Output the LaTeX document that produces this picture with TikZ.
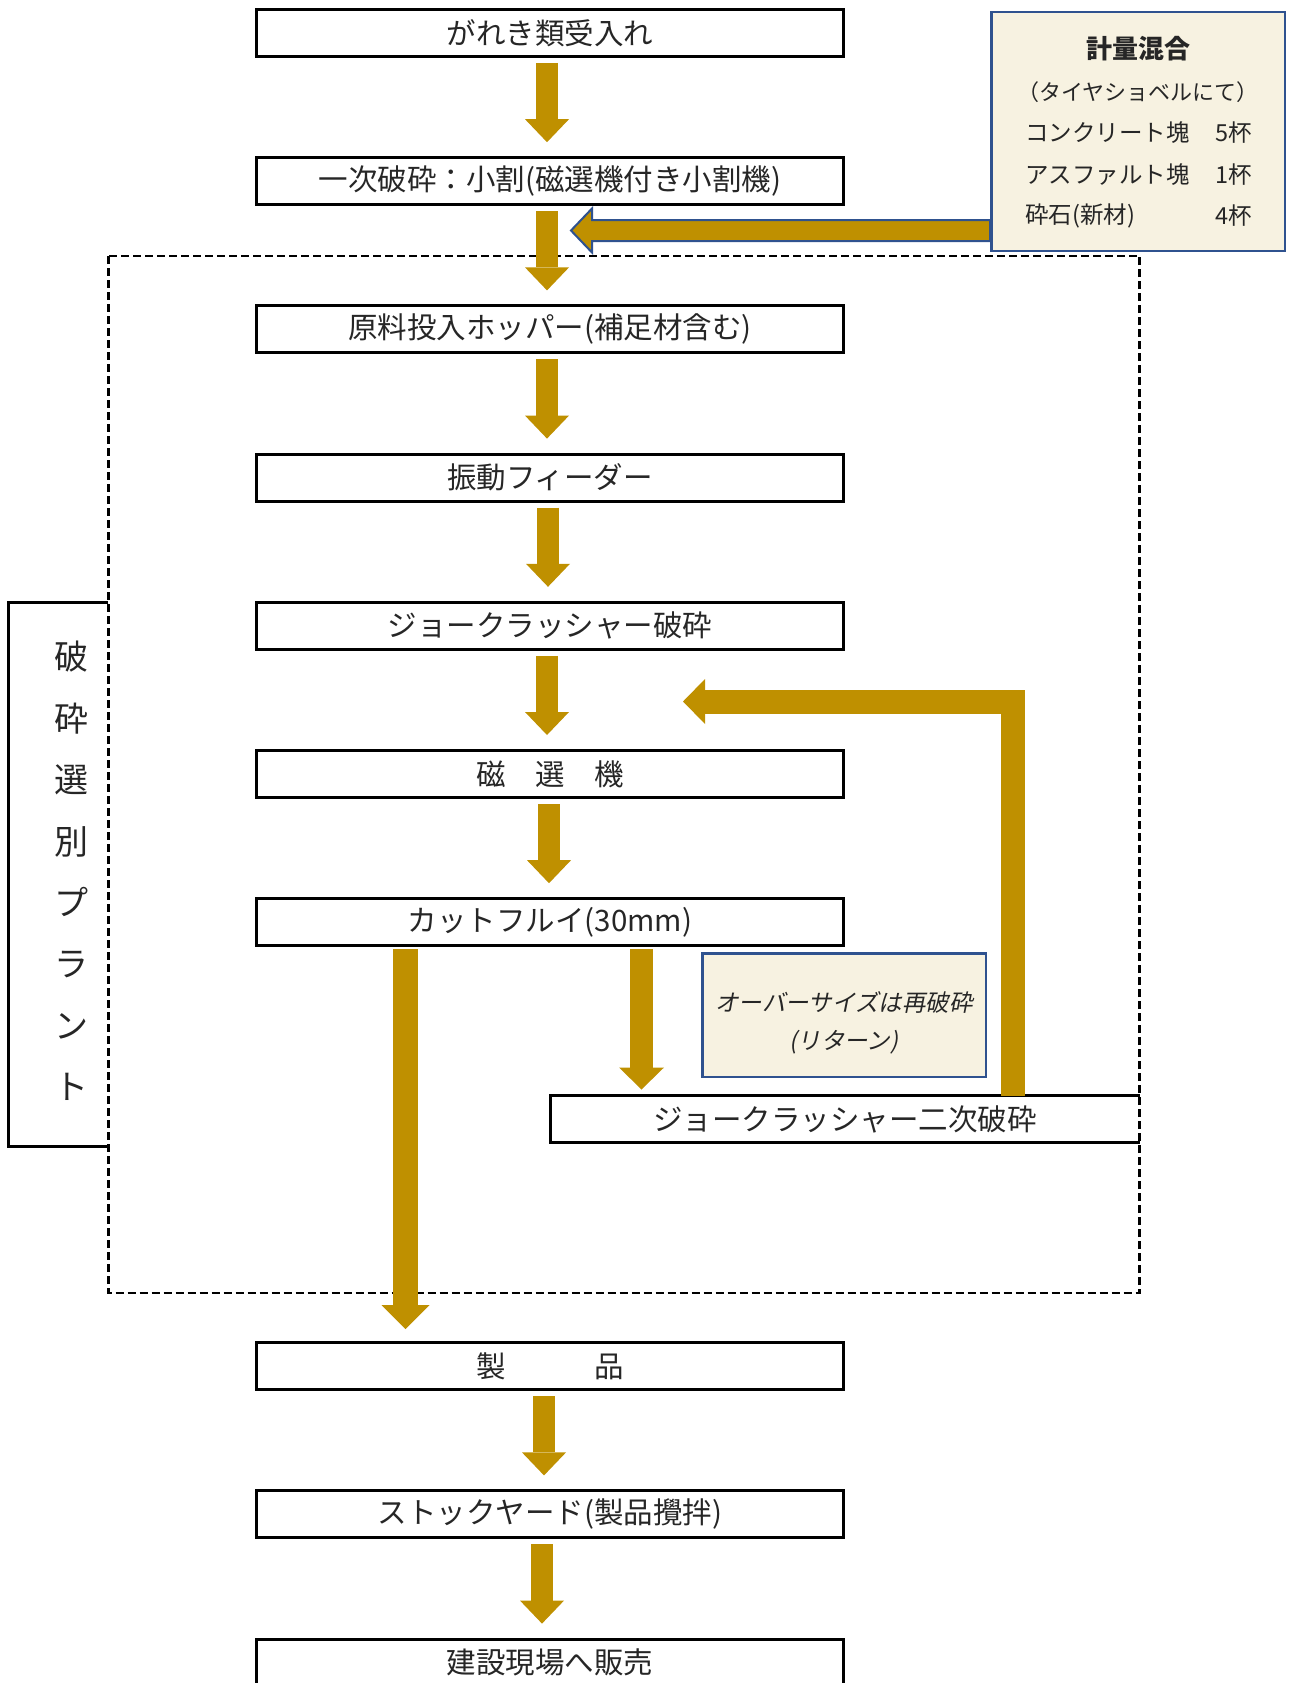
\documentclass[tikz,border=0pt]{standalone}
\usepackage{fontspec}
\usepackage{tikz}
\usetikzlibrary{positioning, arrows.meta, calc}
\setmainfont{Noto Sans CJK JP}
\newfontfamily\slantjp{Noto Sans CJK JP}[FakeSlant=0.2]
\definecolor{flowgold}{RGB}{191,144,0}
\definecolor{noteblue}{RGB}{47,82,143}
\definecolor{notefill}{RGB}{247,242,225}

\begin{document}
\begin{tikzpicture}
	[
	x=1pt, y=-1pt,
	every node/.style={text=black!85},
	stepbox/.style={draw, line width=3pt, minimum width=587pt, minimum height=47pt,
		inner sep=0pt, font=\fontsize{29.5}{34}\selectfont},
	notebox/.style={draw=noteblue, line width=2.5pt, fill=notefill},
	notetext/.style={inner sep=0pt, font=\fontsize{23.5}{28}\selectfont},
	flow/.style={color=flowgold, line width=22pt,
		-{Triangle[width=44pt, length=23pt, line width=0pt]},
		shorten <=5pt, shorten >=14pt},
	node distance=98.2pt
	]
	\useasboundingbox (0,0) rectangle (1290,1683);
	\draw[line width=2.5pt, dash pattern=on 8pt off 4pt] (108.5,256) rectangle (1139.5,1293);

	\node[stepbox] (b1) at (550,33) {がれき類受入れ};
	\node[stepbox, below=of b1] (b2) {一次破砕：小割(磁選機付き小割機)};
	\node[stepbox, below=of b2] (b3) {原料投入ホッパー(補足材含む)};
	\node[stepbox, below=of b3] (b4) {振動フィーダー};
	\node[stepbox, below=of b4] (b5) {ジョークラッシャー破砕};
	\node[stepbox, below=of b5] (b6) {磁　選　機};
	\node[stepbox, below=of b6] (b7) {カットフルイ(30mm)};
	\node[stepbox, below=394pt of b7] (b9) {製　　　品};
	\node[stepbox, below=of b9] (b10) {ストックヤード(製品攪拌)};
	\node[stepbox, below=of b10] (b11) {建設現場へ販売};
	\node[stepbox, draw=none, minimum width=589pt, outer sep=0pt] (b8) at (845,1119) {ジョークラッシャー二次破砕};
	\draw[line width=3pt] (b8.north east) -- (b8.north west) -- (b8.south west) -- (b8.south east);

	\node[minimum width=99.9pt, minimum height=544pt, outer sep=0pt] (plant) at (58.5,874) {};
	\draw[line width=3pt] (plant.north east) -- (plant.north west) -- (plant.south west) -- (plant.south east);
	\node[align=center, inner sep=0pt, font=\fontsize{34}{61.4}\selectfont] (planttxt) at (71,871)
		{破\\砕\\選\\別\\プ\\ラ\\ン\\ト};

	\node[notebox, minimum width=293.5pt, minimum height=238.5pt] (mix) at (1138,131.5) {};
	\node[inner sep=0pt, font=\bfseries\fontsize{26}{30}\selectfont] (mixtitle) at (1138,49) {計量混合};
	\node[inner sep=0pt, font=\fontsize{22}{26}\selectfont] (mixsub) at (1138,92) {（タイヤショベルにて）};
	\node[notetext, anchor=west] (concrete) at (1025,133) {コンクリート塊};
	\node[notetext, anchor=east] (concretenum) at (1252,133) {5杯};
	\node[notetext, anchor=west] (asphalt) at (1025,175) {アスファルト塊};
	\node[notetext, anchor=east] (asphaltnum) at (1252,175) {1杯};
	\node[notetext, anchor=west] (stone) at (1025,216) {砕石(新材)};
	\node[notetext, anchor=east] (stonenum) at (1252,216) {4杯};

	\node[notebox, minimum width=283.5pt, minimum height=123.5pt] (over) at (844,1015) {};
	\node[align=center, inner sep=0pt, font=\slantjp\fontsize{23.5}{38}\selectfont] (overtxt) at (844,1023)
		{オーバーサイズは再破砕\\(リターン)};

	\draw[flow] ([xshift=-3pt]b1.south) -- ([xshift=-3pt]b2.north);
	\draw[flow] ([xshift=-3pt]b2.south) -- ([xshift=-3pt]b3.north);
	\draw[flow] ([xshift=-3pt]b3.south) -- ([xshift=-3pt]b4.north);
	\draw[flow] ([xshift=-2pt]b4.south) -- ([xshift=-2pt]b5.north);
	\draw[flow] ([xshift=-3pt]b5.south) -- ([xshift=-3pt]b6.north);
	\draw[flow] ([xshift=-1pt]b6.south) -- ([xshift=-1pt]b7.north);
	\draw[flow] ([xshift=-6pt]b9.south) -- ([xshift=-6pt]b10.north);
	\draw[flow] ([xshift=-8pt]b10.south) -- ([xshift=-8pt]b11.north);

	\draw[flow, line width=25pt, -{Triangle[width=48pt, length=24pt, line width=0pt]},
		shorten <=2pt, shorten >=12pt] ([xshift=-144.5pt]b7.south) -- ([xshift=-144.5pt]b9.north);
	\coordinate (cutfoot) at ([xshift=91.5pt]b7.south);
	\draw[flow, line width=23pt, -{Triangle[width=45pt, length=22pt, line width=0pt]},
		shorten <=2pt, shorten >=6pt] (cutfoot) -- (cutfoot |- b8.north);

	\coordinate (retfoot) at ([xshift=168pt]b8.north);
	\coordinate (rettip) at (683,701.5);
	\draw[flow, line width=24pt, line join=miter, -{Triangle[width=45pt, length=22pt, line width=0pt]},
		shorten <=0pt, shorten >=0pt] (retfoot) -- (retfoot |- rettip) -- (rettip);

	\coordinate (mixtip) at (571,230.5);
	\coordinate (mixfoot) at (mix.west |- mixtip);
	\filldraw[fill=flowgold, draw=noteblue, line width=2pt, line join=miter]
		(mixtip) -- ($(mixtip)+(21,-22)$) -- ($(mixtip)+(21,-10.5)$) -- ($(mixfoot)+(0,-10.5)$)
		-- ($(mixfoot)+(0,10.5)$) -- ($(mixtip)+(21,10.5)$) -- ($(mixtip)+(21,22)$) -- cycle;
\end{tikzpicture}
\end{document}
